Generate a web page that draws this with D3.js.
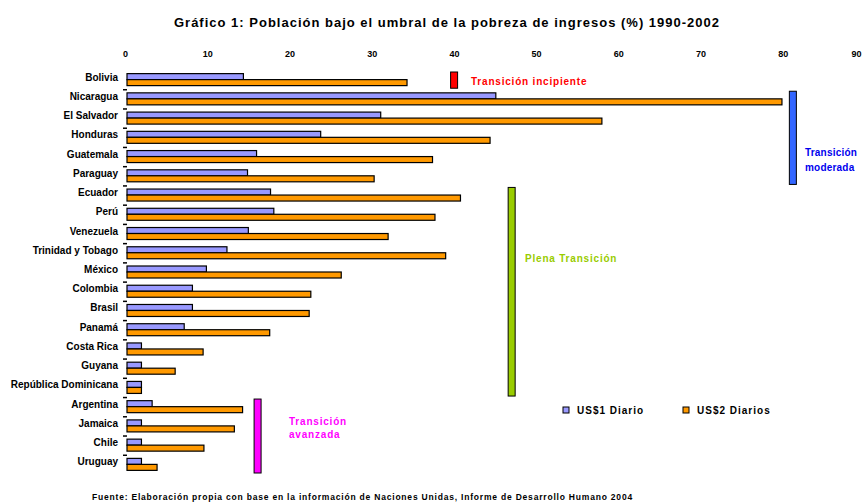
<!DOCTYPE html>
<html>
<head>
<meta charset="utf-8">
<script src="https://cdn.jsdelivr.net/npm/d3@7"></script>
<style>
  html, body { margin: 0; padding: 0; background: #fff; }
  svg { display: block; font-family: "Liberation Sans", Arial, sans-serif; }
</style>
</head>
<body>
<svg id="chart" width="863" height="504"></svg>
<script>
// Población bajo el umbral de pobreza de ingresos, por país
const countries = ["Bolivia", "Nicaragua", "El Salvador", "Honduras", "Guatemala", "Paraguay",
  "Ecuador", "Perú", "Venezuela", "Trinidad y Tobago", "México", "Colombia", "Brasil",
  "Panamá", "Costa Rica", "Guyana", "República Dominicana", "Argentina", "Jamaica", "Chile", "Uruguay"];
const usd1 = [14.4, 45.1, 31.1, 23.8, 16.0, 14.9, 17.7, 18.1, 15.0, 12.4, 9.9, 8.2, 8.2, 7.2, 2.0, 2.0, 2.0, 3.3, 2.0, 2.0, 2.0];
const usd2 = [34.3, 79.9, 58.0, 44.4, 37.4, 30.3, 40.8, 37.7, 32.0, 39.0, 26.3, 22.6, 22.4, 17.6, 9.5, 6.1, 2.0, 14.3, 13.3, 9.6, 3.9];
const seriesNames = ["US$1 Diario", "US$2 Diarios"];
const xTicks = [0, 10, 20, 30, 40, 50, 60, 70, 80, 90];

// Etapas de la transición demográfica
const stageNames = ["Transición incipiente", "Transición moderada", "Plena Transición", "Transición avanzada"];
const stageFirst = ["Bolivia", "Nicaragua", "Ecuador", "Argentina"];
const stageLast = ["Bolivia", "Paraguay", "República Dominicana", "Uruguay"];

const title = "Gráfico 1: Población bajo el umbral de la pobreza de ingresos (%) 1990-2002";
const source = "Fuente: Elaboración propia con base en la información de Naciones Unidas, Informe de Desarrollo Humano 2004";

const svg = d3.select("#chart");
const colors = ["#9999ff", "#ff9900"];
const FONT = "Liberation Sans, Arial, sans-serif";

const x = d3.scaleLinear().domain([0, 90]).range([125, 865]);
const y = d3.scaleBand().domain(countries).range([70, 474]);
const barH = 6;

// Título
svg.append("text")
  .attr("x", 447).attr("y", 27)
  .attr("text-anchor", "middle")
  .attr("font-size", 13).attr("font-weight", "bold")
  .attr("letter-spacing", 1)
  .text(title);

// Eje superior (la última etiqueta se alinea al borde derecho)
const lastTick = xTicks[xTicks.length - 1];
const xAxis = svg.append("g")
  .attr("transform", "translate(0,57)")
  .call(d3.axisTop(x).tickValues(xTicks).tickSize(0).tickPadding(0).tickFormat(d3.format("d")));
xAxis.select(".domain").remove();
xAxis.selectAll("text")
  .attr("font-size", 9).attr("font-weight", "bold").attr("fill", "#000")
  .attr("font-family", FONT)
  .attr("text-anchor", d => d === lastTick ? "end" : "middle")
  .attr("dx", d => d === lastTick ? 861 - x(lastTick) : 0);

// Eje de países
const yAxis = svg.append("g")
  .attr("transform", "translate(123,0)")
  .call(d3.axisLeft(y).tickSize(0).tickPadding(5));
yAxis.select(".domain").remove();
yAxis.selectAll("text")
  .attr("font-size", 10).attr("font-weight", "bold").attr("fill", "#000")
  .attr("font-family", FONT)
  .attr("dy", "0.1em");

// Marcas entre categorías
svg.append("g").selectAll("line")
  .data(countries.slice(1))
  .join("line")
  .attr("x1", 123).attr("x2", 127)
  .attr("y1", d => y(d) + 0.5).attr("y2", d => y(d) + 0.5)
  .attr("stroke", "#000").attr("stroke-width", 1.5);

// Barras
const series = [usd1, usd2];
series.forEach((vals, si) => {
  svg.append("g").selectAll("rect")
    .data(countries)
    .join("rect")
    .attr("x", x(0) + 2)
    .attr("y", d => y(d) + y.bandwidth() / 2 - barH + si * barH)
    .attr("width", (d, i) => x(vals[i]) - x(0) - 2)
    .attr("height", barH)
    .attr("fill", colors[si])
    .attr("stroke", "#000").attr("stroke-width", 1.2);
});

// Corchetes de etapas
const stageStyle = [
  { fill: "#ff0000", text: "#ff0000", at: 39.6, lx: 471, ly: [81], lines: ["Transición incipiente"] },
  { fill: "#3366ff", text: "#0000ee", at: 80.8, lx: 805, ly: [152, 167], lines: ["Transición", "moderada"] },
  { fill: "#99cc00", text: "#99cc00", at: 46.6, lx: 525, ly: [258], lines: ["Plena Transición"] },
  { fill: "#ff00ff", text: "#ff00ff", at: 15.7, lx: 289, ly: [421, 434], lines: ["Transición", "avanzada"] }
];
stageNames.forEach((name, k) => {
  const st = stageStyle[k];
  const y0 = y(stageFirst[k]) + 2;
  const y1 = y(stageLast[k]) + y.bandwidth() - 1;
  svg.append("rect")
    .attr("x", x(st.at)).attr("y", y0)
    .attr("width", 7).attr("height", y1 - y0)
    .attr("fill", st.fill)
    .attr("stroke", "#000").attr("stroke-width", 1);
  const t = svg.append("text")
    .attr("font-size", 10).attr("font-weight", "bold").attr("fill", st.text)
    .attr("letter-spacing", k === 1 ? 0.2 : 0.8);
  st.lines.forEach((ln, j) => {
    t.append("tspan").attr("x", st.lx).attr("y", st.ly[j] + 3.5).text(ln);
  });
});

// Leyenda
const legendX = [563, 683];
seriesNames.forEach((name, i) => {
  svg.append("rect")
    .attr("x", legendX[i]).attr("y", 407)
    .attr("width", 6).attr("height", 6)
    .attr("fill", colors[i]).attr("stroke", "#000").attr("stroke-width", 1);
  svg.append("text")
    .attr("x", legendX[i] + 14).attr("y", 414)
    .attr("font-size", 10).attr("font-weight", "bold")
    .attr("letter-spacing", 1)
    .text(name);
});

// Fuente
svg.append("text")
  .attr("x", 92).attr("y", 500)
  .attr("font-size", 8.5).attr("font-weight", "bold")
  .attr("letter-spacing", 0.8)
  .text(source);
</script>
</body>
</html>
